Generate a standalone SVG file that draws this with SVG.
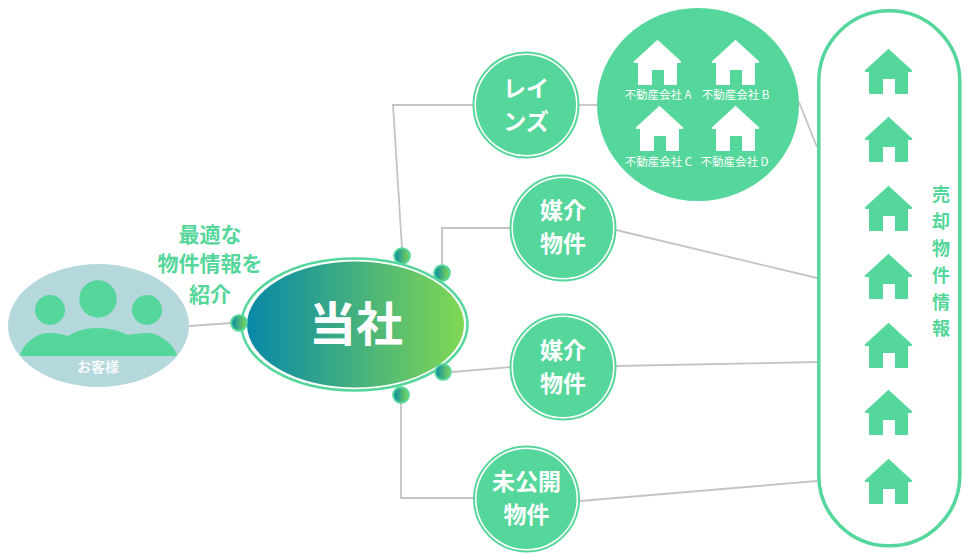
<svg xmlns="http://www.w3.org/2000/svg" width="966" height="555" viewBox="0 0 966 555">
<style>
text{font-family:"Noto Sans CJK JP","Noto Sans",sans-serif;text-anchor:middle;dominant-baseline:central;font-weight:700}
.w{fill:#fff}
.g{fill:#55d69b}
.fill{fill:#55d69b}
.ring{fill:none;stroke:#55d69b;stroke-width:2}
.lines path{fill:none;stroke:#c4c4c4;stroke-width:1.800}
.dot{fill:url(#grad);stroke:#55d69b;stroke-width:2}
.n{font-size:23px}
.s{font-size:11.5px;font-weight:400}
.v{font-size:18px}
.t{font-size:20.5px}
</style>
<defs>
<linearGradient id="grad" x1="0" y1="0" x2="1" y2="0">
<stop offset="0" stop-color="#0788a8"/>
<stop offset="1" stop-color="#80d853"/>
</linearGradient>
<path id="house" stroke-linejoin="round" d="M24.5 .8 L48.2 22.6 Q48.8 24 47 24 L44 24 L44 45 Q44 46 43 46 L31 46 L31 31 L19 31 L19 46 L6 46 Q5 46 5 45 L5 24 L2 24 Q.2 24 .8 22.6 Z"/>
</defs>
<g id="connectors" class="lines">
<path d="M189 326L232 323"/>
<path d="M402 248L393 105H474"/>
<path d="M442 265V228H511"/>
<path d="M452 372L511 367"/>
<path d="M401 403V498H474"/>
<path d="M579 105H597"/>
<path d="M799 102L817 147"/>
<path d="M616 230L817 278"/>
<path d="M616 366L817 362"/>
<path d="M580 501L817 481"/>
</g>
<g id="customer">
<ellipse cx="98.500" cy="325.500" rx="90.500" ry="61.500" fill="#b5d8dd"/>
<circle cx="98" cy="299" r="18.700" class="fill"/>
<circle cx="50" cy="310" r="15" class="fill"/>
<circle cx="147" cy="310" r="15" class="fill"/>
<path class="fill" d="M20 356C22 345 36 333 48 333C56 333 63 334 68 336C76 331 86 328 97 328C110 328 120 331 128 335C133 334 140 333 147 333C160 333 175 345 177 356Z"/>
<text x="98" y="365.500" class="w" opacity=".85" style="font-size:14px">お客様</text>
</g>
<g id="caption">
<text x="210" y="233" class="g" style="font-size:21px">最適な</text>
<text x="210" y="262" class="g" style="font-size:21px">物件情報を</text>
<text x="210" y="293" class="g" style="font-size:21px">紹介</text>
</g>
<g id="main">
<ellipse cx="354.500" cy="324.500" rx="113" ry="66" class="ring" style="stroke-width:2.500"/>
<ellipse cx="355.500" cy="324.500" rx="108.500" ry="63" fill="url(#grad)"/>
<text x="356" y="320" class="w" style="font-size:47px">当社</text>
<circle cx="239" cy="323" r="7.800" class="dot"/>
<circle cx="402" cy="256" r="7.800" class="dot"/>
<circle cx="442" cy="273" r="7.800" class="dot"/>
<circle cx="443" cy="372" r="7.800" class="dot"/>
<circle cx="401" cy="395" r="7.800" class="dot"/>
</g>
<g id="reins">
<circle cx="526" cy="105" r="52.500" class="ring"/>
<circle cx="526" cy="105" r="50" class="fill"/>
<text x="526" y="87" class="w n">レイ</text>
<text x="526" y="120" class="w n">ンズ</text>
</g>
<g id="baikai1">
<circle cx="563" cy="228" r="52.500" class="ring"/>
<circle cx="563" cy="228" r="50" class="fill"/>
<text x="563" y="209" class="w n">媒介</text>
<text x="563" y="242" class="w n">物件</text>
</g>
<g id="baikai2">
<circle cx="563" cy="367" r="52.500" class="ring"/>
<circle cx="563" cy="367" r="50" class="fill"/>
<text x="563" y="349" class="w n">媒介</text>
<text x="563" y="382" class="w n">物件</text>
</g>
<g id="mikokai">
<circle cx="526.500" cy="499" r="52.500" class="ring"/>
<circle cx="526.500" cy="499" r="50" class="fill"/>
<text x="526.500" y="480" class="w n">未公開</text>
<text x="526.500" y="513" class="w n">物件</text>
</g>
<g id="companies">
<ellipse cx="698" cy="104.500" rx="101" ry="96.500" class="fill"/>
<use href="#house" x="633" y="39" class="w"/>
<use href="#house" x="711" y="39" class="w"/>
<use href="#house" x="635" y="105" class="w"/>
<use href="#house" x="711" y="105" class="w"/>
<text x="658" y="94" class="w s">不動産会社 A</text>
<text x="735.500" y="94" class="w s">不動産会社 B</text>
<text x="658.500" y="161" class="w s">不動産会社 C</text>
<text x="734.500" y="161" class="w s">不動産会社 D</text>
</g>
<g id="listings">
<rect x="818.800" y="10.800" width="141" height="535" rx="70.500" fill="none" stroke="#55d69b" stroke-width="3.500"/>
<use href="#house" x="864" y="48" class="g"/>
<use href="#house" x="864" y="116" class="g"/>
<use href="#house" x="864" y="185" class="g"/>
<use href="#house" x="864" y="253" class="g"/>
<use href="#house" x="864" y="322" class="g"/>
<use href="#house" x="864" y="389" class="g"/>
<use href="#house" x="864" y="458" class="g"/>
<text x="941" y="193" class="g v">売</text>
<text x="941" y="220" class="g v">却</text>
<text x="941" y="247" class="g v">物</text>
<text x="941" y="274" class="g v">件</text>
<text x="941" y="301" class="g v">情</text>
<text x="941" y="327" class="g v">報</text>
</g>
</svg>
